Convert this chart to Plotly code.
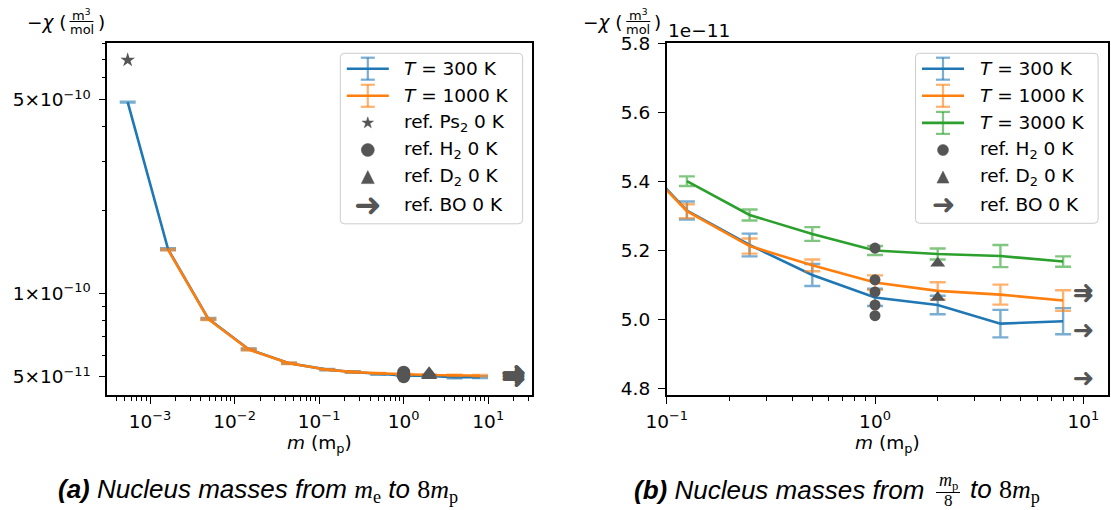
import math
import plotly.graph_objects as go

W, H = 1111, 510

# ---------------- data ----------------
# nucleus masses in units of the proton mass m_p
m_light = [5.446e-4, 1.634e-3, 4.901e-3, 1.470e-2, 4.411e-2]   # m_e, 3m_e, 9m_e, 27m_e, 81m_e
m_heavy = [0.125, 0.25, 0.5, 1.0, 2.0, 4.0, 8.0]

# -chi in units of 1e-11 m^3/mol
chi_300_light = [49.04, 14.47, 8.11, 6.30, 5.606]
err_300_light = [0.15, 0.10, 0.06, 0.04, 0.03]
chi_1000_light = [14.40, 8.08, 6.28, 5.600]          # from 3 m_e upwards
err_1000_light = [0.08, 0.06, 0.04, 0.03]

chi_300 = [5.315, 5.215, 5.128, 5.063, 5.041, 4.987, 4.994]
err_300 = [0.026, 0.033, 0.032, 0.025, 0.027, 0.040, 0.038]
chi_1000 = [5.313, 5.212, 5.156, 5.106, 5.082, 5.071, 5.054]
err_1000 = [0.020, 0.022, 0.017, 0.021, 0.025, 0.029, 0.030]
chi_3000 = [5.400, 5.302, 5.247, 5.199, 5.189, 5.183, 5.167]
err_3000 = [0.014, 0.016, 0.020, 0.013, 0.016, 0.032, 0.015]

# zero-temperature reference values
m_ps2 = [5.446e-4]
chi_ps2 = [69.6]
m_h2 = [1, 1, 1, 1, 1]
chi_h2 = [5.206, 5.114, 5.079, 5.041, 5.010]
m_d2 = [2, 2]
chi_d2 = [5.162, 5.063]
chi_bo = [5.078, 5.062, 4.960, 4.822]
m_bo_a = [20, 20, 20, 20]
m_bo_b = [10, 10, 10, 10]

UNIT = 1e-11

C0, C1, C2 = "#1f77b4", "#ff7f0e", "#2ca02c"
C0E, C1E, C2E = "rgba(31,119,180,0.6)", "rgba(255,127,14,0.6)", "rgba(44,160,44,0.6)"
GREY = "#555555"
FONT = "DejaVu Sans"
FS = 18.5
ARROW = "\u279c"


def scaled(vals):
    return [v * UNIT for v in vals]


fig = go.Figure()


def series(x, y, err, color, ecolor, xa, ya):
    fig.add_trace(go.Scatter(
        x=x, y=y, mode="lines", xaxis=xa, yaxis=ya, showlegend=False,
        line=dict(color=color, width=2.6),
        error_y=dict(type="data", array=err, visible=True, color=ecolor,
                     thickness=2.4, width=8)))


def markers(x, y, symbol, size, xa, ya):
    fig.add_trace(go.Scatter(
        x=x, y=y, mode="markers", xaxis=xa, yaxis=ya, showlegend=False,
        marker=dict(symbol=symbol, size=size, color=GREY, line=dict(width=0))))


def arrows(x, y, size, xa, ya):
    fig.add_trace(go.Scatter(
        x=x, y=y, mode="text", text=[ARROW] * len(y), textposition="middle center",
        xaxis=xa, yaxis=ya, showlegend=False,
        textfont=dict(family=FONT, size=size, color=GREY)))


# ---- panel (a): m_e .. 8 m_p, log-log ----
series(m_light + m_heavy, scaled(chi_300_light + chi_300), scaled(err_300_light + err_300),
       C0, C0E, "x", "y")
series(m_light[1:] + m_heavy, scaled(chi_1000_light + chi_1000), scaled(err_1000_light + err_1000),
       C1, C1E, "x", "y")
markers(m_ps2, scaled(chi_ps2), "star", 11, "x", "y")
markers(m_h2, scaled(chi_h2), "circle", 13, "x", "y")
markers(m_d2, scaled(chi_d2), "triangle-up", 14, "x", "y")
arrows(m_bo_a, scaled(chi_bo), 31, "x", "y")

# ---- panel (b): m_p/8 .. 8 m_p, linear chi in 1e-11 ----
series(m_light + m_heavy, chi_300_light + chi_300, err_300_light + err_300, C0, C0E, "x2", "y2")
series(m_light[1:] + m_heavy, chi_1000_light + chi_1000, err_1000_light + err_1000, C1, C1E, "x2", "y2")
series(m_heavy, chi_3000, err_3000, C2, C2E, "x2", "y2")
markers(m_h2, chi_h2, "circle", 11, "x2", "y2")
markers(m_d2, chi_d2, "triangle-up", 13, "x2", "y2")
arrows(m_bo_b, chi_bo, 26, "x2", "y2")


# ---------------- axes ----------------
def px(x):
    return x / W


def py(y):
    return 1 - y / H


def axis_style(**kw):
    d = dict(showline=True, linecolor="black", linewidth=1.5, mirror=True,
             ticks="outside", ticklen=7, tickwidth=1.4, tickcolor="black",
             showgrid=False, zeroline=False, ticklabelstandoff=4, automargin=False,
             tickfont=dict(family=FONT, size=FS, color="black"))
    d.update(kw)
    return d


def minor(vals):
    return dict(tickmode="array", tickvals=vals, ticks="outside", ticklen=4,
                tickwidth=1.1, tickcolor="black", showgrid=False)


def decade_minors(e_lo, e_hi):
    return [k * 10.0 ** e for e in range(e_lo, e_hi + 1) for k in range(2, 10)]


def sup_label(e):
    return "10<sup>" + ("−" if e < 0 else "") + str(abs(e)) + "</sup>"


ydom = [py(395.0), py(43.3)]

fig.update_layout(
    xaxis=axis_style(type="log", domain=[px(107.3), px(531.7)], anchor="y",
                     range=[-3.505, 1.514], tickmode="array", ticklabelstandoff=2,
                     tickvals=[1e-3, 1e-2, 1e-1, 1, 10],
                     ticktext=[sup_label(e) for e in (-3, -2, -1, 0, 1)],
                     minor=minor(decade_minors(-4, 1))),
    yaxis=axis_style(type="log", domain=ydom, anchor="x",
                     range=[-10.366, -9.097], tickmode="array",
                     tickvals=[5e-11, 1e-10, 5e-10],
                     ticktext=["5×10<sup>−11</sup>", "1×10<sup>−10</sup>", "5×10<sup>−10</sup>"],
                     minor=minor([6e-11, 7e-11, 8e-11, 9e-11, 2e-10, 3e-10, 4e-10,
                                  6e-10, 7e-10, 8e-10])),
    xaxis2=axis_style(type="log", domain=[px(666.7), px(1108.3)], anchor="y2",
                      range=[-1, 1.12], tickmode="array", ticklabelstandoff=2,
                      tickvals=[0.1, 1, 10],
                      ticktext=[sup_label(e) for e in (-1, 0, 1)],
                      minor=minor(decade_minors(-1, 0))),
    yaxis2=axis_style(domain=ydom, anchor="x2", range=[4.78, 5.8],
                      tickmode="linear", tick0=4.8, dtick=0.2, tickformat=".1f"),
)

shapes = []
annotations = []


def P(x, y):
    return f"{px(x):.5f},{py(y):.5f}"


def text(x, y, s, size=FS, xanchor="left", family=FONT, color="black"):
    annotations.append(dict(x=px(x), y=py(y), xref="paper", yref="paper", text=s,
                            showarrow=False, xanchor=xanchor, yanchor="middle",
                            borderpad=0, font=dict(family=family, size=size, color=color)))


def hline(x0, x1, y, color="black", width=1.0):
    shapes.append(dict(type="line", xref="paper", yref="paper", x0=px(x0), x1=px(x1),
                       y0=py(y), y1=py(y), line=dict(color=color, width=width), layer="above"))


def vline(x, y0, y1, color, width):
    shapes.append(dict(type="line", xref="paper", yref="paper", x0=px(x), x1=px(x),
                       y0=py(y0), y1=py(y1), line=dict(color=color, width=width), layer="above"))


def polygon(pts, color):
    path = "M" + " L".join(P(x, y) for x, y in pts) + " Z"
    shapes.append(dict(type="path", xref="paper", yref="paper", path=path,
                       fillcolor=color, line=dict(color=color, width=0.5), layer="above"))


def legend(x0, y0, x1, y1, rows):
    r = 4
    path = (f"M{P(x0 + r, y0)} L{P(x1 - r, y0)} Q{P(x1, y0)} {P(x1, y0 + r)} "
            f"L{P(x1, y1 - r)} Q{P(x1, y1)} {P(x1 - r, y1)} L{P(x0 + r, y1)} "
            f"Q{P(x0, y1)} {P(x0, y1 - r)} L{P(x0, y0 + r)} Q{P(x0, y0)} {P(x0 + r, y0)} Z")
    shapes.append(dict(type="path", xref="paper", yref="paper", path=path,
                       fillcolor="rgba(255,255,255,0.8)", line=dict(color="#cccccc", width=1),
                       layer="above"))
    gx0, gx1 = x0 + 6.5, x0 + 48.5
    cx = (gx0 + gx1) / 2
    tx = x0 + 63
    for i, (kind, label) in enumerate(rows):
        y = y0 + 15.4 + 27.1 * i
        if kind[0] == "err":
            _, col, ecol = kind
            vline(cx, y - 11, y + 11, ecol, 2.2)
            hline(cx - 7, cx + 7, y - 11, ecol, 2.2)
            hline(cx - 7, cx + 7, y + 11, ecol, 2.2)
            hline(gx0, gx1, y, col, 2.6)
        elif kind[0] == "circle":
            rr = kind[1]
            shapes.append(dict(type="circle", xref="paper", yref="paper",
                               x0=px(cx - rr), x1=px(cx + rr), y0=py(y + rr), y1=py(y - rr),
                               fillcolor=GREY, line=dict(color=GREY, width=0.5), layer="above"))
        elif kind[0] == "tri":
            h = kind[1]
            polygon([(cx, y - h), (cx - h, y + h), (cx + h, y + h)], GREY)
        elif kind[0] == "star":
            R = kind[1]
            pts = []
            for k in range(10):
                rad = R if k % 2 == 0 else R * 0.382
                ang = math.pi / 2 + k * math.pi / 5
                pts.append((cx + rad * math.cos(ang), y - rad * math.sin(ang)))
            polygon(pts, GREY)
        elif kind[0] == "arrow":
            text(cx, y, ARROW, size=kind[1], xanchor="center", color=GREY)
        text(tx, y, label)


legend(340.3, 53.3, 522.6, 223.8, [
    (("err", C0, C0E), "<i>T</i> = 300 K"),
    (("err", C1, C1E), "<i>T</i> = 1000 K"),
    (("star", 6.0), "ref. Ps<sub>2</sub> 0 K"),
    (("circle", 6.5), "ref. H<sub>2</sub> 0 K"),
    (("tri", 6.5), "ref. D<sub>2</sub> 0 K"),
    (("arrow", 33), "ref. BO 0 K"),
])
legend(915.5, 53.3, 1098.1, 223.3, [
    (("err", C0, C0E), "<i>T</i> = 300 K"),
    (("err", C1, C1E), "<i>T</i> = 1000 K"),
    (("err", C2, C2E), "<i>T</i> = 3000 K"),
    (("circle", 5.5), "ref. H<sub>2</sub> 0 K"),
    (("tri", 6.0), "ref. D<sub>2</sub> 0 K"),
    (("arrow", 28), "ref. BO 0 K"),
])


# y-axis labels: -chi (m^3 / mol) with a stacked fraction
def ylabel(dx):
    text(67.5 + dx, 22.4, "−<i>χ</i> (", xanchor="right")
    text(81.6 + dx, 14.5, "m<sup>3</sup>", size=13, xanchor="center")
    hline(69.5 + dx, 93.5 + dx, 21.5, width=1)
    text(81.6 + dx, 29.5, "mol", size=13, xanchor="center")
    text(96.5 + dx, 22.4, ")", xanchor="left")


ylabel(0)
ylabel(556.8)
text(667, 30, "1e−11")

# x-axis titles
text(319.5, 444, "<i>m</i> (m<sub>p</sub>)", xanchor="center")
text(887.5, 444, "<i>m</i> (m<sub>p</sub>)", xanchor="center")

# captions
SERIF = "font-family:Liberation Serif"
CAP = 26


def math_span(s):
    return f"<span style='{SERIF}'>{s}</span>"


text(57, 490, "<b><i>(a)</i></b><i> Nucleus masses from </i>" + math_span("<i>m</i><sub>e</sub>")
     + "<i> to </i>" + math_span("8<i>m</i><sub>p</sub>"), size=CAP, family="Liberation Sans")
text(633, 490, "<b><i>(b)</i></b><i> Nucleus masses from</i>", size=CAP, family="Liberation Sans")
text(948, 481.5, "<i>m</i><sub>p</sub>", size=18, xanchor="center", family="Liberation Serif")
hline(936, 960, 492.5, width=1)
text(948, 500.5, "8", size=17, xanchor="center", family="Liberation Serif")
text(969, 490, "<i>to </i>" + math_span("8<i>m</i><sub>p</sub>"), size=CAP, family="Liberation Sans")

fig.update_layout(
    width=W, height=H, margin=dict(l=0, r=0, t=0, b=0, autoexpand=False),
    paper_bgcolor="white", plot_bgcolor="white", showlegend=False,
    shapes=shapes, annotations=annotations,
)

fig.write_html("out.html")
